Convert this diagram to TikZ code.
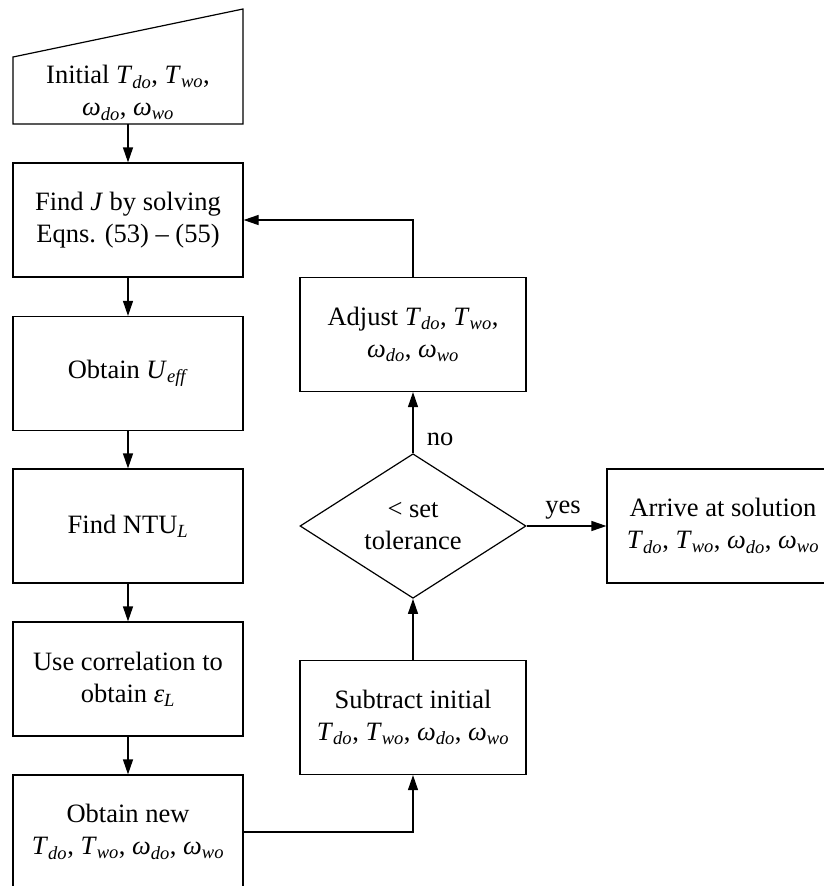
\documentclass[tikz,border=0pt]{standalone}
\usepackage{fontspec}
\setmainfont{Liberation Serif}
\usetikzlibrary{arrows.meta,shapes.geometric}

\newcommand{\vsub}[2]{\textit{#1}\textsubscript{\textit{#2}}}
\newcommand{\fourvars}{\vsub{T}{do}, \vsub{T}{wo}, \vsub{ω}{do}, \vsub{ω}{wo}}

\tikzset{
  flowtext/.style={font=\fontsize{26.5}{32}\selectfont, align=center},
  procbox/.style={flowtext, draw, line width=1.2pt, rectangle, inner sep=0pt,
    minimum width=230pt, minimum height=114pt},
  decbox/.style={flowtext, draw, line width=1.2pt, diamond, inner sep=0pt,
    minimum width=226pt, minimum height=114pt},
  flowarrow/.style={line width=1.2pt, -{Triangle[length=15pt,width=10pt]}},
}

\begin{document}
\begin{tikzpicture}[x=1pt,y=1pt,yscale=-1,xscale=1]
\useasboundingbox (0,0) rectangle (824,886);

% Manual input
\draw [line width=1.2pt] (13,57) -- (243,9) -- (243,124) -- (13,124) -- cycle ;
\coordinate (initb) at (128,124);
\node [flowtext] (init) at (128,93) {Initial \vsub{T}{do}, \vsub{T}{wo},\\ \vsub{ω}{do}, \vsub{ω}{wo}};

% Left column
\node [procbox] (findJ) at (128,220) {Find \textit{J} by solving\\ Eqns. (53) – (55)};
\node [procbox] (ueff) at (128,373.5) {Obtain \vsub{U}{eff}};
\node [procbox] (ntu) at (128,526) {Find NTU\textsubscript{\textit{L}}};
\node [procbox] (corr) at (128,679) {Use correlation to\\ obtain \vsub{ε}{L}};
\node [procbox] (newval) at (128,832) {Obtain new\\ \fourvars};

% Right column
\node [procbox, minimum width=226pt] (adjust) at (413,334.5) {Adjust \vsub{T}{do}, \vsub{T}{wo},\\ \vsub{ω}{do}, \vsub{ω}{wo}};
\node [decbox] (tol) at (413,526) {{\textless} set\\ tolerance};
\node [procbox, minimum width=226pt] (subtract) at (413,717.5) {Subtract initial\\ \fourvars};
\node [procbox, minimum width=232pt] (solution) at (723,526) {Arrive at solution\\ \fourvars};

% Labels
\node [flowtext] (lblno) at (440,439) {no};
\node [flowtext] (lblyes) at (563,510) {yes};

% Connectors
\draw [flowarrow] (initb) -- (findJ.north) ;
\draw [flowarrow] (findJ) -- (ueff) ;
\draw [flowarrow] (ueff) -- (ntu) ;
\draw [flowarrow] (ntu) -- (corr) ;
\draw [flowarrow] (corr) -- (newval) ;
\draw [flowarrow] (newval.east) -| (subtract.south) ;
\draw [flowarrow] (subtract) -- (tol) ;
\draw [flowarrow] (tol) -- (adjust) ;
\draw [flowarrow] (tol) -- (solution) ;
\draw [flowarrow] (adjust.north) |- (findJ.east) ;

\end{tikzpicture}
\end{document}
